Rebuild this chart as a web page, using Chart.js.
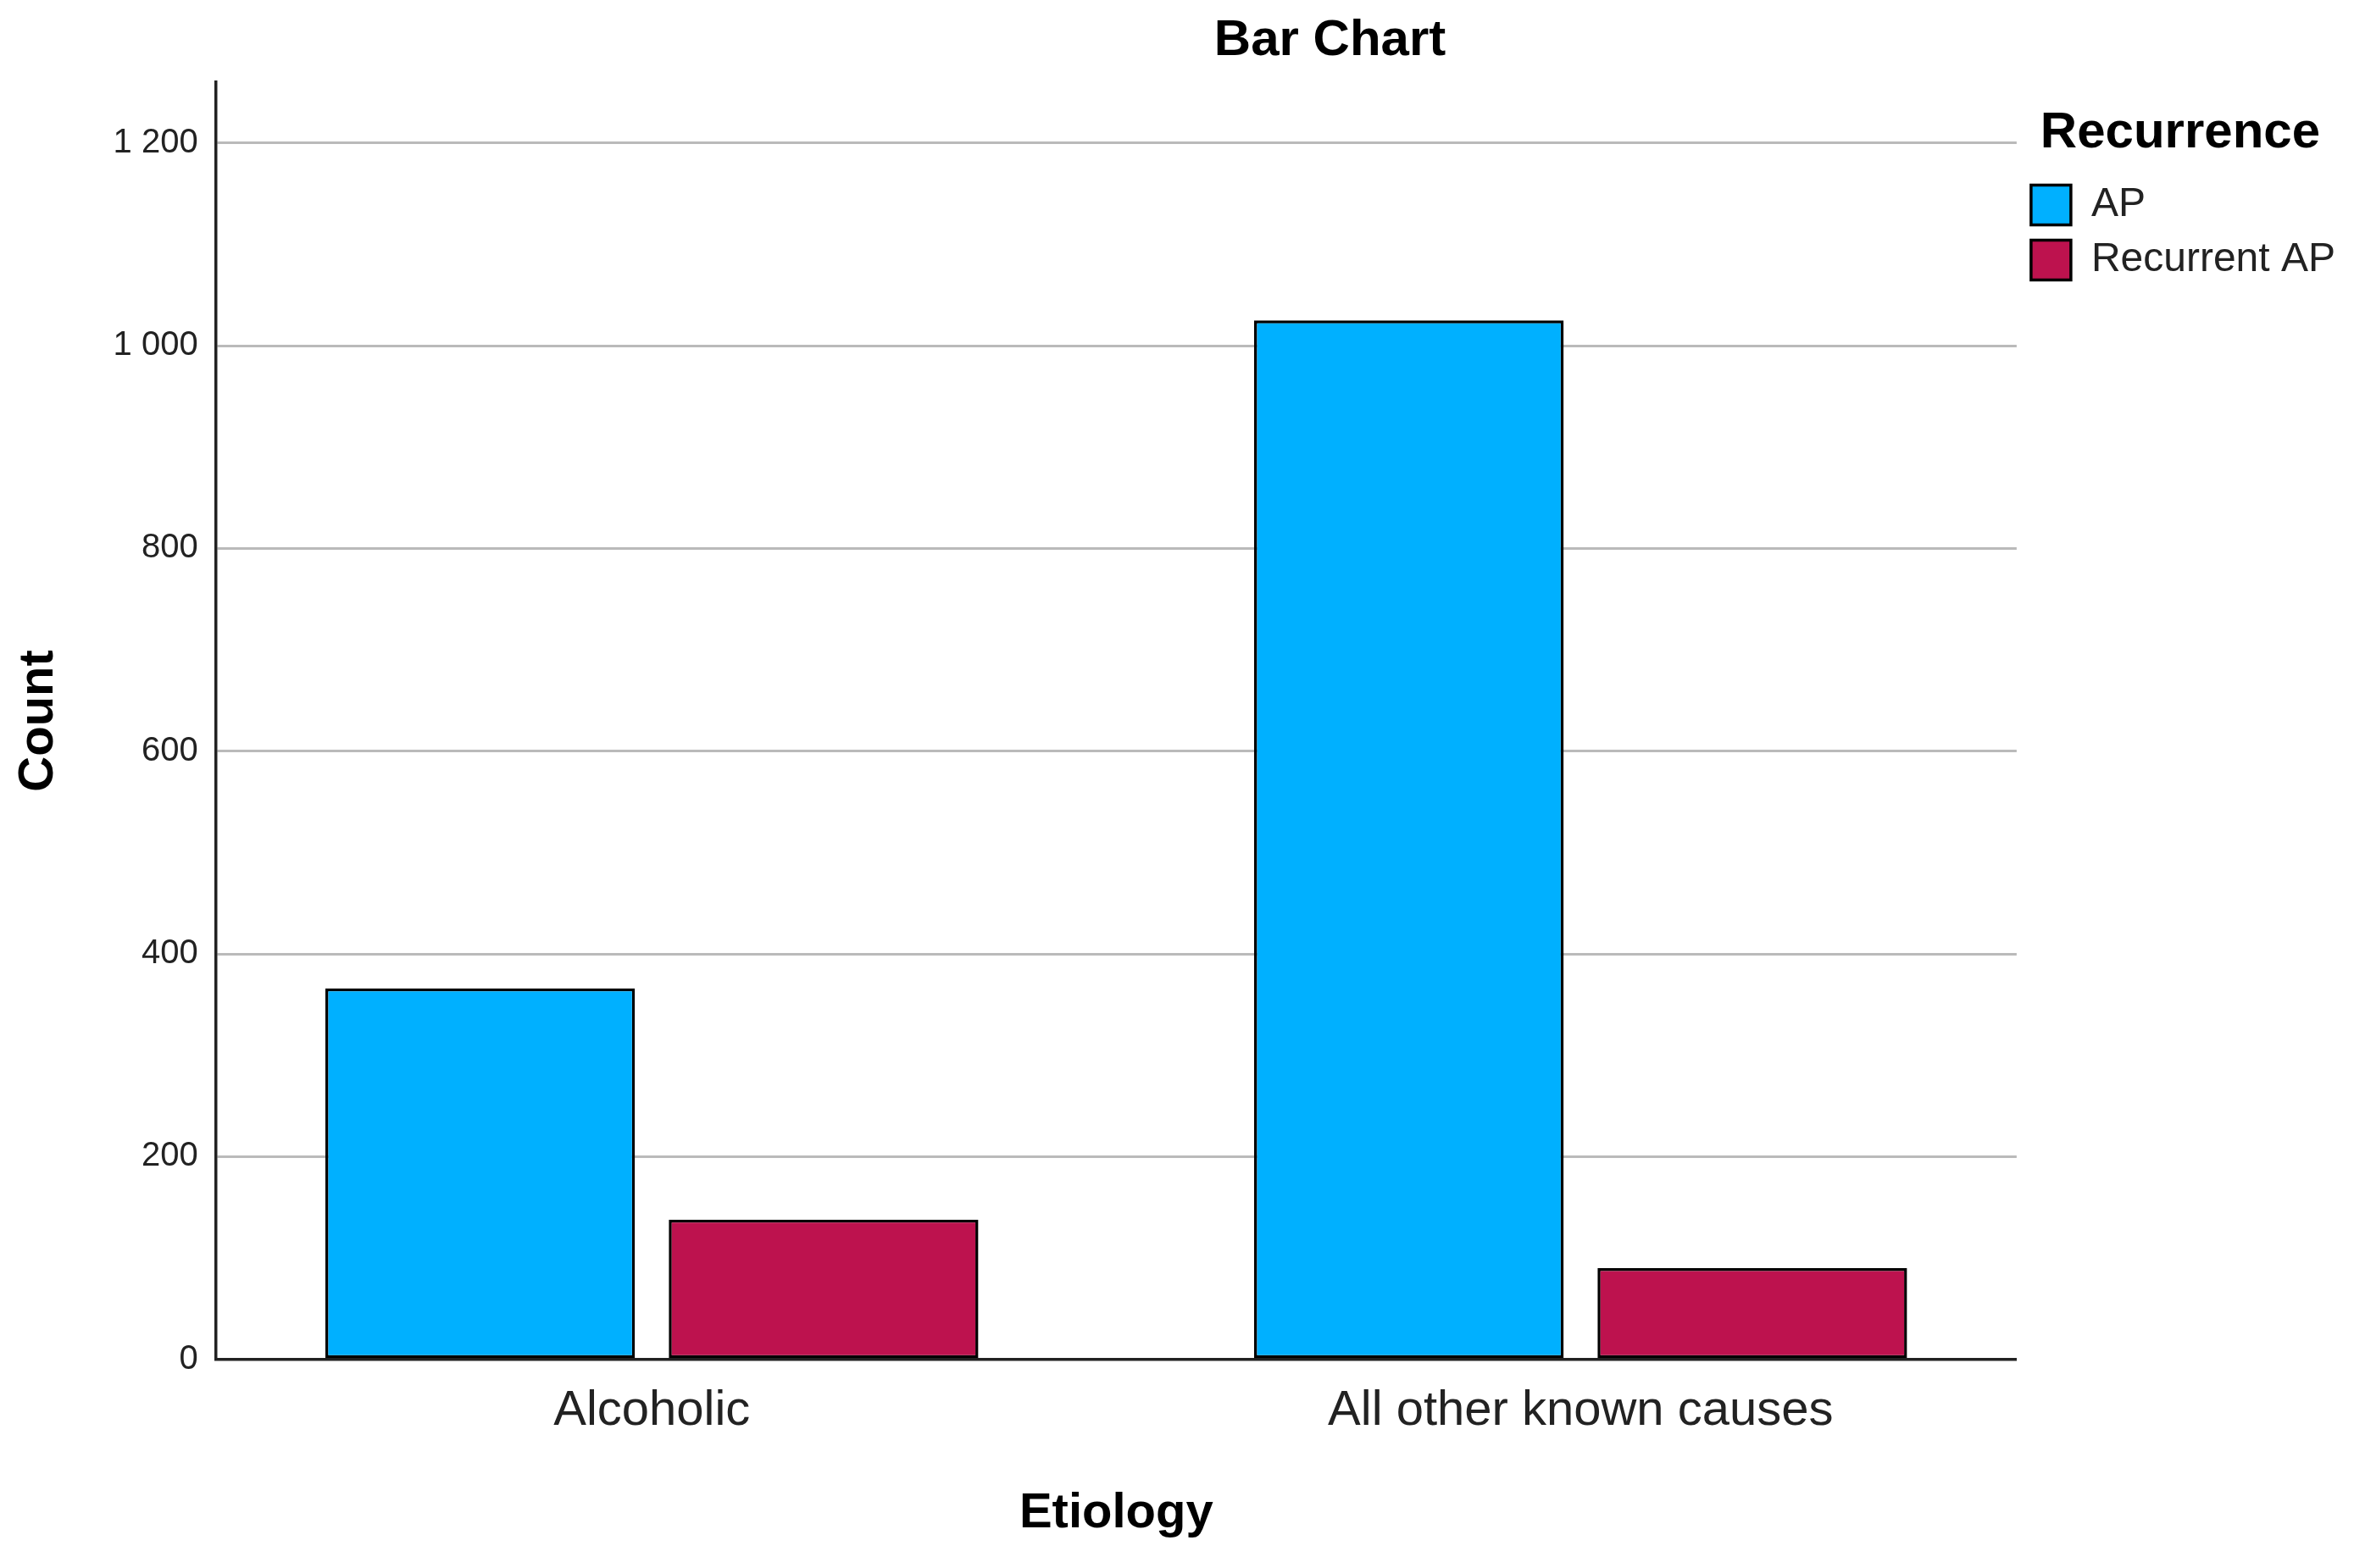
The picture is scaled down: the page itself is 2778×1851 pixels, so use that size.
<!DOCTYPE html>
<html>
<head>
<meta charset="utf-8">
<script src="https://cdn.jsdelivr.net/npm/chart.js@4/dist/chart.umd.min.js"></script>
<style>
  html, body { margin: 0; padding: 0; background: #fff; overflow: hidden; }
  canvas { display: block; }
</style>
</head>
<body>
<canvas id="barChart" width="2778" height="1851"></canvas>
<script>
// values
const categories = ['Alcoholic', 'All other known causes'];
const seriesNames = ['AP', 'Recurrent AP'];
const apCounts = [366, 1025];
const recurrentCounts = [138, 90];
const yTicks = [0, 200, 400, 600, 800, 1000, 1200];

const colors = ['#00b0ff', '#bd124e'];
const font = 'Liberation Sans, Arial, sans-serif';

function spaced(v) {
    return String(v).replace(/\B(?=(\d{3})+(?!\d))/g, ' ');
}

// SPSS puts the title off-centre, so draw it ourselves
const titlePlugin = {
    id: 'spssTitle',
    afterDraw(chart) {
        const ctx = chart.ctx;
        ctx.save();
        ctx.font = 'bold 60px ' + font;
        ctx.fillStyle = '#000';
        ctx.textAlign = 'center';
        ctx.textBaseline = 'middle';
        ctx.fillText('Bar Chart', chart.width * 0.565, 48);
        ctx.restore();
    }
};

const ctx = document.getElementById('barChart').getContext('2d');
new Chart(ctx, {
    type: 'bar',
    data: {
        datasets: [apCounts, recurrentCounts].map((vals, i) => ({
            label: seriesNames[i],
            data: vals.map((v, k) => ({ x: k, y: v })),
            backgroundColor: colors[i],
            borderColor: '#000',
            borderWidth: 3.5,
            borderSkipped: false,
            categoryPercentage: 0.7395,
            barPercentage: 0.9015
        }))
    },
    options: {
        responsive: false,
        animation: false,
        devicePixelRatio: 1,
        layout: { padding: { top: 97, left: 0, right: 12, bottom: 0 } },
        plugins: {
            title: { display: false },
            tooltip: { enabled: false },
            legend: {
                position: 'right',
                align: 'start',
                title: {
                    display: true,
                    text: 'Recurrence',
                    color: '#000',
                    font: { family: font, size: 60, weight: 'bold' },
                    padding: { top: 30, bottom: 2 }
                },
                labels: {
                    color: '#222',
                    font: { family: font, size: 48 },
                    boxWidth: 47,
                    boxHeight: 47,
                    padding: 17
                }
            }
        },
        scales: {
            x: {
                type: 'linear',
                min: -0.4695,
                max: 1.4695,
                offset: false,
                afterBuildTicks: (scale) => {
                    scale.ticks = categories.map((c, i) => ({ value: i }));
                },
                ticks: {
                    callback: (v) => categories[v],
                    color: '#222',
                    font: { family: font, size: 58 },
                    padding: 26,
                    maxRotation: 0
                },
                grid: { display: false, drawTicks: false },
                border: { display: true, color: '#222', width: 3.5 },
                title: {
                    display: true,
                    text: 'Etiology',
                    color: '#000',
                    font: { family: font, size: 58, weight: 'bold' },
                    padding: { top: 26, bottom: 29 }
                }
            },
            y: {
                min: 0,
                max: 1260,
                afterBuildTicks: (scale) => {
                    scale.ticks = yTicks.map(v => ({ value: v }));
                },
                ticks: {
                    callback: (v) => spaced(v),
                    color: '#222',
                    font: { family: font, size: 40 },
                    padding: 21
                },
                grid: { color: '#bababa', lineWidth: 3, drawTicks: false },
                border: { display: true, color: '#222', width: 3.5 },
                title: {
                    display: true,
                    text: 'Count',
                    color: '#000',
                    font: { family: font, size: 58, weight: 'bold' },
                    padding: { top: 11, bottom: 32 }
                }
            }
        }
    },
    plugins: [titlePlugin]
});
</script>
</body>
</html>
